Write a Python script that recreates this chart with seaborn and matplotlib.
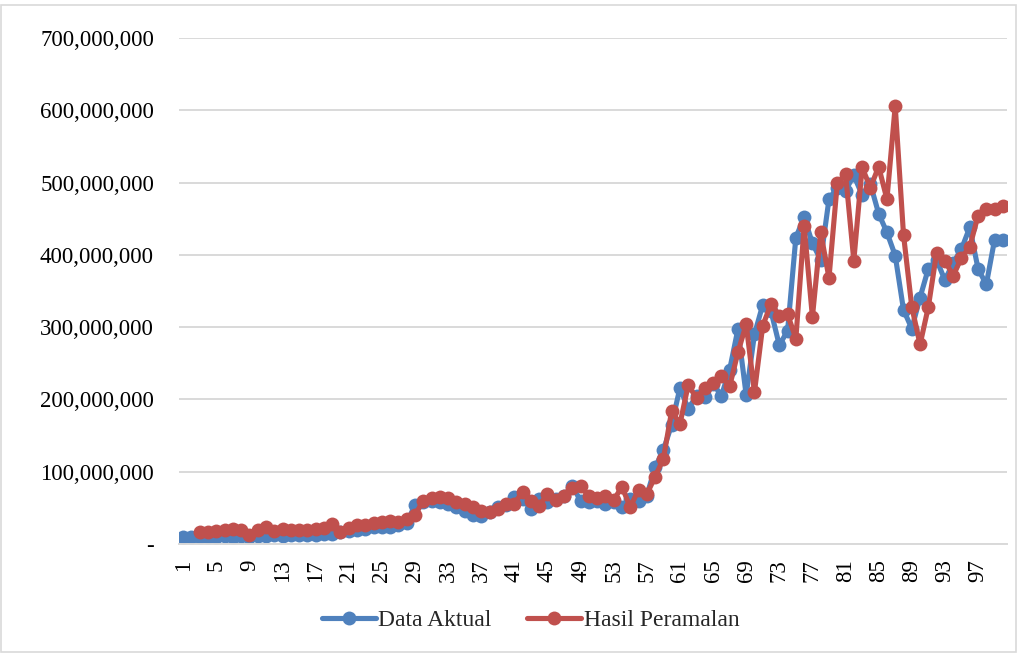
import numpy as np
import pandas as pd
import matplotlib
matplotlib.use("Agg")
import matplotlib.pyplot as plt
from matplotlib.ticker import FuncFormatter, FixedLocator
from matplotlib.lines import Line2D
from matplotlib.patches import Rectangle
import seaborn as sns

# Periods 1..100
periode = list(range(1, 101))

# Actual values (millions)
data_aktual = [
    10, 9, 9, 10, 10, 11, 10, 11, 10, 11,
    11, 12, 11, 12, 12, 12, 13, 14, 14, 16,
    18, 20, 21, 23, 24, 23, 26, 29, 54, 58,
    59, 58, 55, 51, 46, 40, 39, 44, 51, 54,
    65, 62, 49, 62, 58, 62, 66, 80, 60, 58,
    60, 56, 58, 51, 62, 60, 67, 106, 130, 165,
    216, 187, 205, 203, 222, 205, 241, 297, 206, 290,
    331, 322, 275, 295, 424, 452, 416, 393, 477, 493,
    489, 510, 483, 498, 457, 431, 399, 324, 298, 341,
    381, 393, 365, 389, 408, 438, 381, 359, 421, 421,
]

# Forecast values (millions); first two periods have no forecast
hasil_peramalan = [
    np.nan, np.nan, 16, 17, 18, 19, 21, 20, 13, 19,
    24, 18, 21, 19, 19, 19, 21, 22, 27, 17,
    22, 26, 26, 29, 30, 32, 30, 35, 40, 60,
    64, 65, 64, 58, 55, 51, 46, 44, 49, 55,
    56, 72, 59, 53, 69, 61, 67, 78, 80, 66,
    63, 67, 61, 79, 51, 75, 69, 93, 118, 184,
    166, 220, 202, 216, 223, 232, 218, 265, 304, 210,
    302, 332, 316, 318, 284, 440, 314, 431, 368, 499,
    512, 392, 521, 493, 522, 477, 606, 428, 328, 276,
    328, 403, 392, 371, 396, 411, 454, 463, 464, 468,
]

series_names = ["Data Aktual", "Hasil Peramalan"]
series_colors = ["#4F81BD", "#C0504D"]
x_tick_labels = list(range(1, 101, 4))
y_ticks = [0, 100e6, 200e6, 300e6, 400e6, 500e6, 600e6, 700e6]

df = pd.DataFrame({
    "Periode": periode * 2,
    "Nilai": [v * 1e6 for v in data_aktual] + [v * 1e6 for v in hasil_peramalan],
    "Seri": [series_names[0]] * 100 + [series_names[1]] * 100,
})

sns.set_style("white")
plt.rcParams["font.family"] = ["Liberation Serif", "DejaVu Serif"]

fig = plt.figure(figsize=(10.24, 6.53), dpi=100)
ax = fig.add_axes([179 / 1024, 1 - 544 / 653, (1007 - 179) / 1024, (544 - 38) / 653])

LW = 3.7
MS = 10
sns.lineplot(
    data=df, x="Periode", y="Nilai", hue="Seri",
    hue_order=series_names, palette=series_colors,
    marker="o", markersize=MS, markeredgewidth=0,
    linewidth=LW, ax=ax, legend=False, sort=False,
)

ax.set_xlim(0.5, 100.5)
ax.set_ylim(0, 700e6)
ax.set_xlabel("")
ax.set_ylabel("")

ax.yaxis.set_major_locator(FixedLocator(y_ticks))
ax.yaxis.set_major_formatter(
    FuncFormatter(lambda v, p: "-" if v == 0 else f"{int(round(v)):,}")
)
ax.set_xticks(x_tick_labels)
ax.set_xticklabels([str(t) for t in x_tick_labels], rotation=90)
ax.tick_params(axis="both", length=0, labelsize=16.5, colors="black")
ax.tick_params(axis="y", pad=18)
ax.tick_params(axis="x", pad=11)

ax.grid(axis="y", color="#D9D9D9", linewidth=1.4)
ax.set_axisbelow(True)
for side in ["top", "right", "left"]:
    ax.spines[side].set_visible(False)
ax.spines["bottom"].set_color("#D9D9D9")
ax.spines["bottom"].set_linewidth(1.4)

handles = [
    Line2D([0], [0], color=c, linewidth=LW, marker="o", markersize=MS,
           markeredgewidth=0)
    for c in series_colors
]
fig.legend(
    handles, series_names, loc="center", bbox_to_anchor=(0.518, 1 - 620 / 653),
    ncol=2, frameon=False, fontsize=17, handlelength=2.3, handletextpad=0.1,
    columnspacing=1.5,
)

fig.patches.append(Rectangle((0.001, 0.002), 0.991, 0.99, transform=fig.transFigure,
                             fill=False, edgecolor="#D9D9D9", linewidth=1.2))

fig.savefig("out.png", dpi=100)
